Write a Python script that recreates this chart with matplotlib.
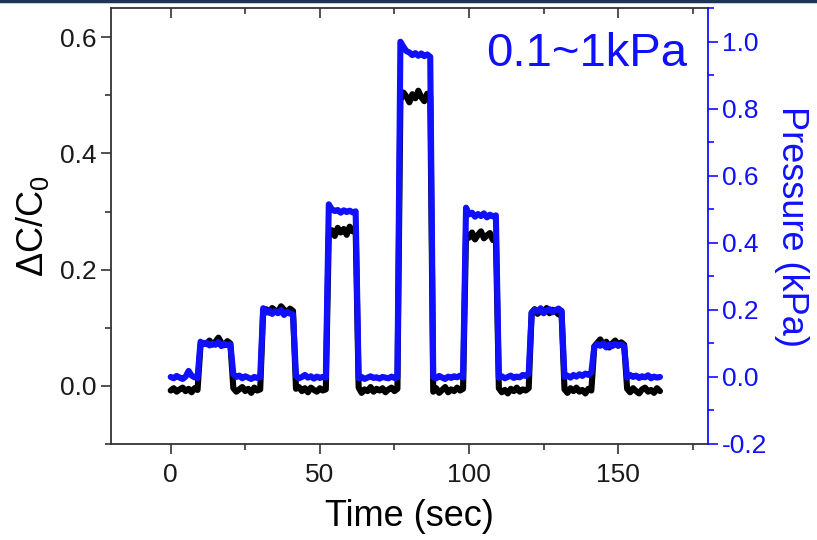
import numpy as np
import matplotlib
matplotlib.use("Agg")
import matplotlib.pyplot as plt
from matplotlib.ticker import MultipleLocator
from matplotlib.lines import Line2D

plt.rcParams['font.family'] = ['Liberation Sans', 'DejaVu Sans']
plt.rcParams['axes.unicode_minus'] = False
plt.rcParams['mathtext.fontset'] = 'custom'
plt.rcParams['mathtext.rm'] = 'Liberation Sans'

# sample times (sec), one reading per second
t = np.arange(0, 165)

# capacitance change dC/C0 (black)
dc = [
    -0.008, -0.004, -0.010, -0.006, -0.003, -0.009, -0.005, -0.011, -0.004, -0.007,
    0.070, 0.074, 0.072, 0.078, 0.071, 0.076, 0.083, 0.074, 0.070, 0.077,
    0.073, -0.004, -0.010, -0.006, -0.002, -0.009, -0.005, -0.012, -0.003, -0.008,
    -0.006, 0.128, 0.132, 0.126, 0.134, 0.130, 0.127, 0.137, 0.131, 0.126, 0.133, 0.129,
    -0.005, -0.002, -0.009, -0.004, -0.011, -0.003, -0.007, -0.010, -0.004, -0.008, -0.006,
    0.262, 0.268, 0.258, 0.272, 0.264, 0.270, 0.260, 0.274, 0.266, 0.270,
    -0.003, -0.012, -0.006, -0.009, -0.002, -0.010, -0.005, -0.008, -0.004, -0.011, -0.006, -0.003, -0.009, -0.005,
    0.492, 0.505, 0.498, 0.488, 0.502, 0.495, 0.508, 0.497, 0.490, 0.503, 0.499,
    -0.010, -0.004, -0.012, -0.007, -0.002, -0.011, -0.006, -0.009, -0.003, -0.008, -0.005,
    0.262, 0.255, 0.264, 0.252, 0.260, 0.266, 0.254, 0.259, 0.263, 0.251, 0.257,
    -0.004, -0.011, -0.007, -0.013, -0.005, -0.009, -0.003, -0.010, -0.006, -0.008, -0.004,
    0.126, 0.132, 0.124, 0.130, 0.127, 0.134, 0.125, 0.131, 0.128, 0.123, 0.129,
    -0.006, -0.012, -0.004, -0.009, -0.003, -0.010, -0.007, -0.013, -0.005, -0.008,
    0.068, 0.074, 0.080, 0.070, 0.076, 0.066, 0.073, 0.078, 0.069, 0.075, 0.071,
    -0.005, -0.011, -0.004, -0.009, -0.013, -0.006, -0.003, -0.010, -0.007, -0.012, -0.004, -0.009,
]

# applied pressure in kPa (blue)
pres = [
    0.000, -0.004, 0.003, -0.002, -0.006, 0.001, 0.018, 0.004, -0.001, -0.003,
    0.105, 0.098, 0.102, 0.094, 0.100, 0.096, 0.104, 0.092, 0.099, 0.095,
    0.097, 0.008, 0.000, 0.004, -0.004, 0.002, -0.002, -0.006, 0.000, -0.003,
    -0.001, 0.205, 0.192, 0.198, 0.188, 0.196, 0.190, 0.200, 0.185, 0.194, 0.189, 0.186,
    0.003, -0.004, 0.000, 0.006, -0.002, 0.002, -0.005, 0.001, -0.003, 0.000, -0.002,
    0.515, 0.500, 0.495, 0.498, 0.490, 0.497, 0.492, 0.496, 0.491, 0.494,
    -0.004, 0.000, -0.006, -0.002, 0.002, -0.003, -0.001, -0.005, 0.000, -0.002, -0.004, 0.001, -0.003, -0.001,
    1.000, 0.985, 0.972, 0.968, 0.960, 0.966, 0.958, 0.965, 0.957, 0.962, 0.955,
    0.000, -0.004, 0.003, -0.002, -0.006, 0.001, -0.003, 0.002, -0.001, 0.004, -0.002,
    0.505, 0.485, 0.490, 0.478, 0.486, 0.480, 0.488, 0.476, 0.484, 0.479, 0.482,
    -0.002, 0.002, -0.004, 0.000, 0.004, -0.003, 0.001, -0.001, 0.006, 0.003, 0.010,
    0.192, 0.200, 0.195, 0.205, 0.190, 0.198, 0.202, 0.193, 0.199, 0.204, 0.196,
    0.000, 0.004, -0.002, 0.006, 0.001, 0.008, 0.003, 0.010, 0.006, 0.013,
    0.090, 0.098, 0.093, 0.100, 0.088, 0.096, 0.092, 0.099, 0.094, 0.097, 0.091,
    -0.002, 0.006, 0.000, 0.004, -0.003, 0.002, -0.001, 0.005, -0.004, 0.001, -0.002, 0.000,
]

blue = '#1010ff'
frame = '#333333'

fig = plt.figure(figsize=(8.17, 5.40), dpi=100)
ax = fig.add_axes([0.1359, 0.1778, 0.7303, 0.807])
ax2 = ax.twinx()

ax.plot(t, dc, color='black', lw=4.4, solid_capstyle='round', zorder=2)
ax2.plot(t, pres, color=blue, lw=4.4, solid_capstyle='round', zorder=3)

ax.set_xlim(-20, 180)
ax.set_ylim(-0.1, 0.65)
ax2.set_ylim(-0.2, 1.1)

ax.xaxis.set_major_locator(MultipleLocator(50))
ax.xaxis.set_minor_locator(MultipleLocator(25))
ax.yaxis.set_major_locator(MultipleLocator(0.2))
ax.yaxis.set_minor_locator(MultipleLocator(0.1))
ax2.yaxis.set_major_locator(MultipleLocator(0.2))
ax2.yaxis.set_minor_locator(MultipleLocator(0.1))

for s in ['left', 'top', 'bottom']:
    ax.spines[s].set_color(frame)
    ax.spines[s].set_linewidth(1.3)
ax2.spines['right'].set_color(blue)
ax2.spines['right'].set_linewidth(1.3)
for s in ['left', 'top', 'bottom']:
    ax2.spines[s].set_visible(False)
ax.spines['right'].set_visible(False)

ax.tick_params(axis='both', which='both', direction='out', color=frame, width=1.2,
               labelsize=19, labelcolor='#1a1a1a')
ax.tick_params(which='major', length=7)
ax.tick_params(which='minor', length=4)
ax.tick_params(axis='x', top=True, which='both')
ax.tick_params(axis='x', which='major', pad=7)
ax2.tick_params(axis='y', which='both', direction='out', color=blue, width=1.2,
                labelsize=19, labelcolor=blue)
ax2.tick_params(which='major', length=7)
ax2.tick_params(which='minor', length=4)

# top ticks point inward
for tk in ax.xaxis.get_major_ticks() + ax.xaxis.get_minor_ticks():
    tk.tick2line.set_marker(3)

ax.set_xlabel('Time (sec)', fontsize=26, labelpad=8)
ax.set_ylabel(r'$\Delta$C/C$_\mathregular{0}$', fontsize=26, labelpad=6)
ax2.set_ylabel('Pressure (kPa)', fontsize=26, color=blue, rotation=270, labelpad=30)

ax.text(0.965, 0.895, '0.1~1kPa', transform=ax.transAxes, ha='right', va='center',
        fontsize=34, color=blue)

# dark rule at the top edge
fig.add_artist(Line2D([0, 1], [0.998, 0.998], transform=fig.transFigure,
                      color='#1c3557', lw=2.5))

fig.savefig('out.png', dpi=100)
